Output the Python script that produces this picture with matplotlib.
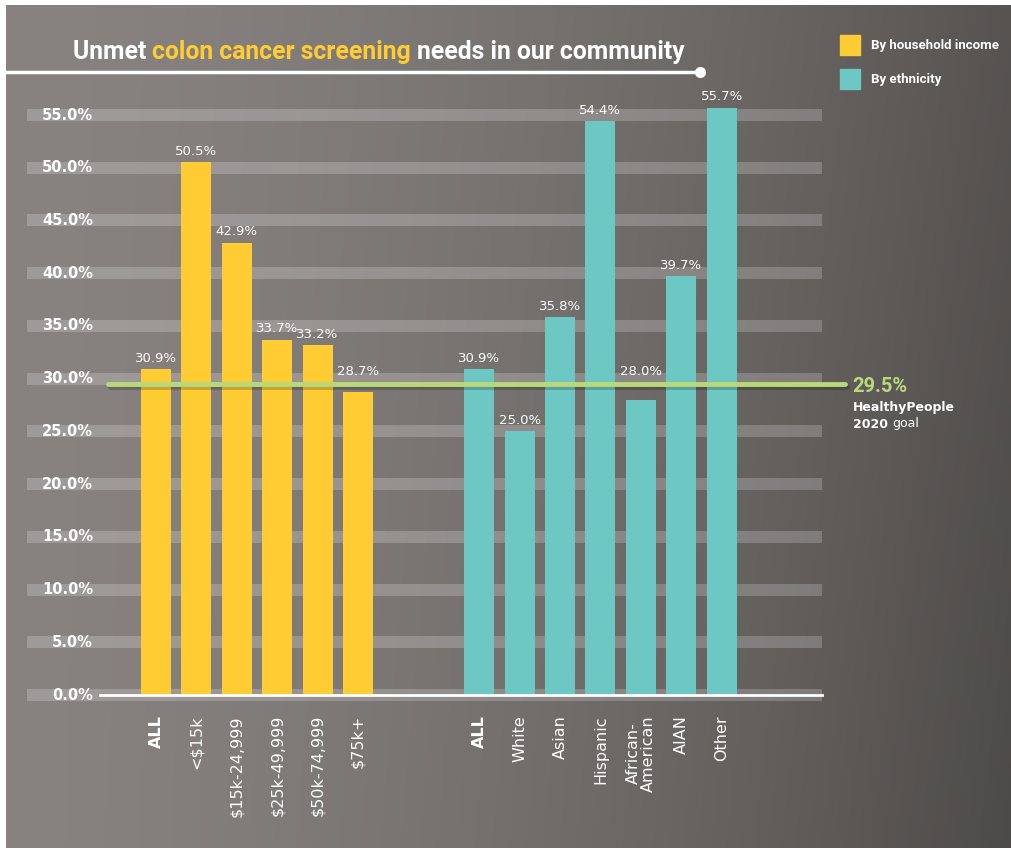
"""
Unmet colon cancer screening needs - bar chart on grey gradient
"""

import numpy as np
import matplotlib.pyplot as plt
import matplotlib.patheffects as pe

income_labels = ['ALL', '<$15k', '$15k-24,999', '$25k-49,999', '$50k-74,999', '$75k+']
income_values = [30.9, 50.5, 42.9, 33.7, 33.2, 28.7]
ethnic_labels = ['ALL', 'White', 'Asian', 'Hispanic', 'African-\nAmerican', 'AIAN', 'Other']
ethnic_values = [30.9, 25.0, 35.8, 54.4, 28.0, 39.7, 55.7]
y_ticks = [0, 5, 10, 15, 20, 25, 30, 35, 40, 45, 50, 55]
goal = 29.5

YELLOW = '#FFCC33'
TEAL = '#6DC8C4'
GREEN = '#B9D87A'

W, H = 1012, 848
fig = plt.figure(figsize=(W / 100, H / 100), dpi=100)
fig.patch.set_facecolor('white')

# gradient background
bg = fig.add_axes([6 / W, 0, 1 - 6 / W, 1 - 5 / H])
xs = np.linspace(0, 1, 400)
ys = np.linspace(0, 1, 200)
gx, gy = np.meshgrid(xs, ys)
t = np.clip(0.8 * gx ** 1.6 + 0.15 * gx * gy, 0, 1)
left = np.array([136, 131, 129]) / 255
right = np.array([74, 72, 70]) / 255
img = left[None, None, :] * (1 - t[..., None]) + right[None, None, :] * t[..., None]
bg.imshow(img, aspect='auto', extent=[0, 1, 0, 1], origin='upper')
bg.axis('off')


def px(x):
    return x / W


def py(y):
    return 1 - y / H


# main axes in pixel geometry
ax_l, ax_r, ax_t, ax_b = 27, 822, 80, 712
ax = fig.add_axes([px(ax_l), py(ax_b), px(ax_r - ax_l), (ax_b - ax_t) / H])
ax.patch.set_alpha(0)
ppu = (695 - 115) / 55.0
ax.set_ylim(-(ax_b - 695) / ppu, (695 - ax_t) / ppu)
slot = 40.4
x0 = 156
ax.set_xlim((ax_l - x0) / slot, (ax_r - x0) / slot)
for s in ax.spines.values():
    s.set_visible(False)
ax.set_xticks([])
ax.set_yticks([])

# grid bands
for v in y_ticks:
    ax.axhline(v, color='white', alpha=0.2, lw=8.6, zorder=1, solid_capstyle='butt')
    ax.text((93 - x0) / slot, v, '{:.1f}%'.format(v), ha='right', va='center',
            color='white', fontsize=10.5, fontweight='bold', zorder=3)

inc_x = np.arange(len(income_values))
eth_x = np.arange(len(ethnic_values)) + 8
ax.bar(inc_x, income_values, width=30 / slot, color=YELLOW, zorder=2)
ax.bar(eth_x, ethnic_values, width=30 / slot, color=TEAL, zorder=2)

# value labels, lifted above the goal line when the bar ends under it
for xs_, vs in ((inc_x, income_values), (eth_x, ethnic_values)):
    for x, v in zip(xs_, vs):
        y = v + 0.4 if v > goal + 0.5 or v < goal - 3 else goal + 0.6
        ax.text(x, y, '{:.1f}%'.format(v), ha='center', va='bottom',
                color='white', fontsize=9.5, zorder=6)

# baseline
ax.plot([(100 - x0) / slot, (822 - x0) / slot], [0, 0], color='white', lw=2,
        zorder=4, clip_on=False)

# goal line
ax.plot([(108 - x0) / slot, (845 - x0) / slot], [goal, goal], color=GREEN, lw=3.5,
        zorder=5, clip_on=False, solid_capstyle='round',
        path_effects=[pe.SimpleLineShadow(offset=(1.5, -2.5), alpha=0.2), pe.Normal()])

# category labels
for xs_, labels in ((inc_x, income_labels), (eth_x, ethnic_labels)):
    for x, lab in zip(xs_, labels):
        ax.text(x, -1.9, lab, rotation=90, ha='center', va='top', color='white',
                fontsize=11.5, fontweight='bold' if lab == 'ALL' else 'normal',
                linespacing=1.0, clip_on=False)

# title
ty = py(52)
tkw = dict(fontsize=17.8, fontweight='bold', va='center', family='Roboto')
t1 = fig.text(px(73), ty, 'Unmet ', color='white', **tkw)
fig.canvas.draw()
r = fig.canvas.get_renderer()
bb = t1.get_window_extent(r)
t2 = fig.text(bb.x1 / W, ty, 'colon cancer screening', color=YELLOW, **tkw)
bb = t2.get_window_extent(r)
fig.text(bb.x1 / W + 6 / W, ty, 'needs in our community', color='white', **tkw)
fig.add_artist(plt.Line2D([px(6), px(700)], [py(72), py(72)], color='white', lw=2.5))
fig.add_artist(plt.Line2D([px(700)], [py(72)], marker='o', color='white', ms=7))

# legend
for i, (c, lab) in enumerate(((YELLOW, 'By household income'), (TEAL, 'By ethnicity'))):
    yc = 45 + i * 34
    fig.patches.append(plt.Rectangle((px(840), py(yc + 10)), 20 / W, 20 / H,
                                     transform=fig.transFigure, color=c))
    fig.text(px(871), py(yc), lab, color='white', fontsize=9.5, fontweight='bold',
             va='center', family='Roboto')

# goal annotation
fig.text(px(852), py(386), '29.5%', color=GREEN, fontsize=14.5, fontweight='bold',
         va='center', family='Roboto')
fig.text(px(853), py(408), 'HealthyPeople', color='white', fontsize=9,
         fontweight='bold', va='center')
g1 = fig.text(px(853), py(424), '2020 ', color='white', fontsize=9,
              fontweight='bold', va='center')
bb = g1.get_window_extent(r)
fig.text(bb.x1 / W, py(424), 'goal', color='white', fontsize=9, va='center')

fig.savefig('out.png', dpi=100, facecolor=fig.get_facecolor())
